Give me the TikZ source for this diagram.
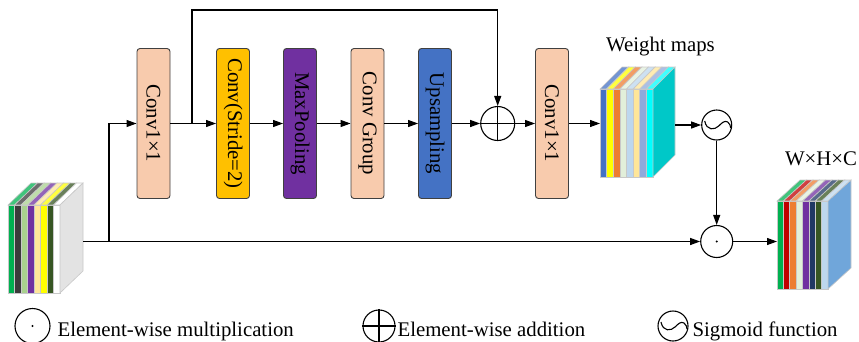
\documentclass[tikz,border=0pt]{standalone}
\usepackage{fontspec}
\setmainfont{Liberation Serif}
\usepackage{graphicx}
\usetikzlibrary{arrows.meta}
\definecolor{peach}{HTML}{F8CBAD}
\definecolor{gold}{HTML}{FFC000}
\definecolor{vpurple}{HTML}{7030A0}
\definecolor{vblue}{HTML}{4472C4}
\definecolor{boxline}{HTML}{404040}
\definecolor{stackline}{HTML}{C8C8C8}
\definecolor{cGreen}{HTML}{00B050}
\definecolor{cDark}{HTML}{3B3B3B}
\definecolor{cLgreen}{HTML}{A9D18E}
\definecolor{cTan}{HTML}{FFE699}
\definecolor{cYellow}{HTML}{FFFF00}
\definecolor{cDkgreen}{HTML}{375623}
\definecolor{cWhite}{HTML}{FFFFFF}
\definecolor{cGray}{HTML}{E3E3E3}
\definecolor{cOrange}{HTML}{ED7D31}
\definecolor{cPale}{HTML}{E2EFDA}
\definecolor{cLblue}{HTML}{BDD7EE}
\definecolor{cPeri}{HTML}{8FAADC}
\definecolor{cCyan}{HTML}{00FFFF}
\definecolor{cTeal}{HTML}{00C8C8}
\definecolor{cRed}{HTML}{C00000}
\definecolor{cNavy}{HTML}{203864}
\definecolor{cSky}{HTML}{70A6DA}
% #1 x0, #2 x1, #3 N, #4 yTop, #5 yBottom, #6 dx, #7 dd, #8 colours, #9 side colour
\newcommand{\stackdraw}[9]{%
  \foreach \col [count=\i from 0] in {#8} {
    \pgfmathsetmacro\xa{#1+\i*(#2-#1)/#3}
    \pgfmathsetmacro\xb{#1+(\i+1)*(#2-#1)/#3}
    \filldraw[fill=\col, draw=stackline, line width=0.6pt] (\xa,#4) rectangle (\xb,#5);
    \filldraw[fill=\col!75!white, draw=stackline, line width=0.6pt] (\xa,#4) -- ++(#6,-#7) -- (\xb+#6,#4-#7) -- (\xb,#4) -- cycle;
  }
  \filldraw[fill=#9, draw=stackline, line width=0.6pt] (#2,#4) -- ++(#6,-#7) -- ++(0,#5-#4) -- (#2,#5) -- cycle;
}
\begin{document}
\begin{tikzpicture}[x=1pt,y=-1pt,
  font=\rmfamily\fontsize{20.8}{25}\selectfont,
  line width=1.1pt,
  arr/.style={-{Triangle[length=10pt,width=7pt]}},
  box/.style={draw=boxline, rounded corners=3pt, minimum width=33pt, minimum height=150pt, inner sep=0pt, line width=0.9pt},
  op/.style={circle, draw, inner sep=0pt, line width=1.1pt},
  sigcurve/.pic={\draw[line width=1.1pt] (-12,-4) .. controls (-10,6) and (-2,5) .. (2,1) .. controls (5,-2) and (8,-5) .. (11,-3) .. controls (13,-1.5) and (14,1) .. (14,3);},
]
\useasboundingbox (0,0) rectangle (859,341);

% stacks
\stackdraw{8}{60}{8}{205}{293}{23}{22}{cGreen,cDark,cLgreen,vpurple,cTan,cYellow,cDkgreen,cWhite}{cGray}
\stackdraw{600}{653}{8}{89}{177}{22}{22}{vblue,cYellow,cOrange,cPale,cLblue,cTan,cPeri,cCyan}{cTeal}
\stackdraw{777}{828}{8}{201}{289}{23}{21}{cGreen,cRed,cOrange,cPale,vpurple,cNavy,cDkgreen,cLblue}{cSky}

\coordinate (inOut) at (83,241.5);
\coordinate (wIn) at (600,123.5);
\coordinate (wOut) at (675,125);
\coordinate (oIn) at (777,241.5);
\coordinate (br0) at (109,241.5);
\coordinate (br1) at (192,123.5);
\coordinate (topL) at (192,10);

% boxes
\node[box, fill=peach] (conv1) at (153.5,123.5) {\rotatebox{-90}{Conv1×1}};
\node[box, fill=gold] (convs) at (233,123.5) {\rotatebox{-90}{Conv(Stride=2)}};
\node[box, fill=vpurple] (pool) at (300,123.5) {\rotatebox{-90}{MaxPooling}};
\node[box, fill=peach] (group) at (367.5,123.5) {\rotatebox{-90}{Conv Group}};
\node[box, fill=vblue] (up) at (435,123.5) {\rotatebox{-90}{Upsampling}};
\node[box, fill=peach] (conv2) at (552,123.5) {\rotatebox{-90}{Conv1×1}};

% operators
\node[op, minimum size=34pt] (plus) at (497.7,123.5) {};
\draw (plus.north) -- (plus.south) (plus.west) -- (plus.east);
\node[op, minimum size=30pt] (sig) at (716.7,125) {};
\pic at (sig.center) {sigcurve};
\node[op, minimum size=32pt] (mult) at (716.7,241.5) {};
\fill (mult.center) circle (1.1pt);

% labels
\node[anchor=base, inner sep=0pt] (wlab) at (660.5,51) {Weight maps};
\node[anchor=base, inner sep=0pt] (olab) at (821,165) {W×H×C};

% connectors
\draw[arr] (inOut) -- (mult.west);
\draw[arr] (br0) |- (conv1.west);
\draw[arr] (conv1.east) -- (convs.west);
\draw[arr] (br1) -- (topL) -| (plus.north);
\draw[arr] (convs.east) -- (pool.west);
\draw[arr] (pool.east) -- (group.west);
\draw[arr] (group.east) -- (up.west);
\draw[arr] (up.east) -- (plus.west);
\draw[arr] (plus.east) -- (conv2.west);
\draw[arr] (conv2.east) -- (wIn);
\draw[arr] (wOut) -- (sig.west);
\draw[arr] (sig.south) -- (mult.north);
\draw[arr] (mult.east) -- (oIn);

% legend
\node[op, minimum size=35pt] (lm) at (32.5,326) {};
\fill (lm.center) circle (1.1pt);
\node[anchor=base west, inner sep=0pt] (lmt) at (57,336) {Element-wise multiplication};
\node[op, minimum size=32pt] (la) at (379,326) {};
\draw (la.north) -- (la.south) (la.west) -- (la.east);
\node[anchor=base west, inner sep=0pt] (lat) at (397,336) {Element-wise addition};
\node[op, minimum size=30pt] (ls) at (673,326) {};
\pic at (ls.center) {sigcurve};
\node[anchor=base west, inner sep=0pt] (lst) at (692,336) {Sigmoid function};
\end{tikzpicture}
\end{document}
